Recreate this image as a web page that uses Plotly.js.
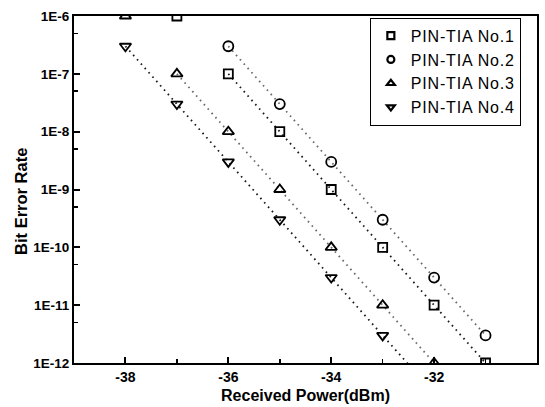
<!DOCTYPE html>
<html>
<head>
<meta charset="utf-8">
<script src="https://cdn.plot.ly/plotly-3.0.1.min.js"></script>
<style>
html,body{margin:0;padding:0;background:#fff;}
#chart{width:545px;height:407px;}
.legendtext{letter-spacing:0.8px;}
</style>
</head>
<body>
<div id="chart"></div>
<script>
// Data
var seriesNames = ["PIN-TIA No.1", "PIN-TIA No.2", "PIN-TIA No.3", "PIN-TIA No.4"];
var x1 = [-37, -36, -35, -34, -33, -32, -31];
var y1 = [1e-6, 1e-7, 1e-8, 1e-9, 1e-10, 1e-11, 1e-12];
var x2 = [-36, -35, -34, -33, -32, -31];
var y2 = [3e-7, 3e-8, 3e-9, 3e-10, 3e-11, 3e-12];
var x3 = [-38, -37, -36, -35, -34, -33, -32];
var y3 = [1e-6, 1e-7, 1e-8, 1e-9, 1e-10, 1e-11, 1e-12];
var x4 = [-38, -37, -36, -35, -34, -33];
var y4 = [3e-7, 3e-8, 3e-9, 3e-10, 3e-11, 3e-12];

var xTickVals = [-38, -36, -34, -32, -30];
var xTickText = ["-38", "-36", "-34", "-32", "-30"];
var xMinorVals = [-39, -37, -35, -33, -31];
var yTickVals = [1e-12, 1e-11, 1e-10, 1e-9, 1e-8, 1e-7, 1e-6];
var yTickText = ["1E-12", "1E-11", "1E-10", "1E-9", "1E-8", "1E-7", "1E-6"];
var yMinorVals = [5e-12, 5e-11, 5e-10, 5e-9, 5e-8, 5e-7];

// style: how far (dBm) each fit line continues past its last point
var fitExtension = [0, 0, 0, 0.6];
var symbols = ["square-open", "circle-open", "triangle-up-open", "triangle-down-open"];
var markerSizes = [9, 10, 10, 10];
var lineColors = ["#1a1a1a", "#6a6a6a", "#6a6a6a", "#1a1a1a"];
var xs = [x1, x2, x3, x4];
var ys = [y1, y2, y3, y4];
var yTop = 1e-6;

// linear fit of log10(BER) vs power over the points below the top of the axis
function fitLine(xv, yv, ext) {
  var px = [], py = [];
  for (var i = 0; i < xv.length; i++) {
    if (yv[i] < yTop) { px.push(xv[i]); py.push(Math.log10(yv[i])); }
  }
  var n = px.length, sx = 0, sy = 0, sxx = 0, sxy = 0;
  for (var i = 0; i < n; i++) {
    sx += px[i]; sy += py[i]; sxx += px[i] * px[i]; sxy += px[i] * py[i];
  }
  var b = (n * sxy - sx * sy) / (n * sxx - sx * sx);
  var a = (sy - b * sx) / n;
  var xmin = Math.min.apply(null, px), xmax = Math.max.apply(null, px) + ext;
  return {x: [xmin, xmax], y: [Math.pow(10, a + b * xmin), Math.pow(10, a + b * xmax)]};
}

var traces = [];
for (var k = 0; k < 4; k++) {
  var f = fitLine(xs[k], ys[k], fitExtension[k]);
  traces.push({
    x: f.x, y: f.y, mode: "lines", type: "scatter", showlegend: false, hoverinfo: "skip",
    line: {color: lineColors[k], width: 1.8, dash: "1.6px,4.2px"}
  });
}
for (var k = 0; k < 4; k++) {
  traces.push({
    x: xs[k], y: ys[k], mode: "markers", type: "scatter", name: seriesNames[k],
    showlegend: false, cliponaxis: true,
    marker: {symbol: symbols[k], size: markerSizes[k], color: "#000", line: {color: "#000", width: 1.8}}
  });
}
// legend entries (smaller, heavier symbols as in the reference legend)
for (var k = 0; k < 4; k++) {
  traces.push({
    x: [null], y: [null], mode: "markers", type: "scatter", name: seriesNames[k],
    showlegend: true,
    marker: {symbol: symbols[k], size: 7, color: "#000", line: {color: "#000", width: 2.2}}
  });
}

var fontFam = "Liberation Sans, Arial, sans-serif";
var layout = {
  width: 545, height: 407,
  margin: {l: 74, r: 8, t: 16, b: 44},
  paper_bgcolor: "#fff", plot_bgcolor: "#fff",
  font: {family: fontFam, color: "#000"},
  showlegend: true,
  legend: {
    x: 0.639, y: 0.995, xanchor: "left", yanchor: "top",
    bordercolor: "#000", borderwidth: 1, bgcolor: "#fff",
    font: {family: fontFam, size: 16, color: "#000"},
    tracegroupgap: 0
  },
  xaxis: {
    range: [-39, -30], tickmode: "array", tickvals: xTickVals, ticktext: xTickText,
    ticks: "inside", ticklen: 6, tickwidth: 2, tickcolor: "#000",
    minor: {tickmode: "array", tickvals: xMinorVals, ticks: "inside", ticklen: 4, tickwidth: 1.5, tickcolor: "#000"},
    showline: true, linewidth: 2, linecolor: "#000", mirror: true,
    showgrid: false, zeroline: false,
    tickfont: {family: fontFam, size: 14, weight: "bold"},
    title: {text: "Received Power(dBm)", font: {family: fontFam, size: 16, weight: "bold"}, standoff: 6}
  },
  yaxis: {
    type: "log", range: [-12, -6], tickmode: "array", tickvals: yTickVals, ticktext: yTickText,
    ticks: "inside", ticklen: 6, tickwidth: 2, tickcolor: "#000",
    minor: {tickmode: "array", tickvals: yMinorVals, ticks: "inside", ticklen: 4, tickwidth: 1.5, tickcolor: "#000"},
    showline: true, linewidth: 2, linecolor: "#000", mirror: true,
    showgrid: false, zeroline: false,
    tickfont: {family: fontFam, size: 13.5, weight: "bold"}
  },
  annotations: [{
    text: "Bit Error Rate", textangle: -90, showarrow: false,
    xref: "paper", yref: "paper", x: -0.1145, y: 0.467, xanchor: "center", yanchor: "middle",
    font: {family: fontFam, size: 16.5, weight: "bold", color: "#000"}
  }]
};

Plotly.newPlot("chart", traces, layout, {displayModeBar: false, staticPlot: true});
</script>
</body>
</html>
